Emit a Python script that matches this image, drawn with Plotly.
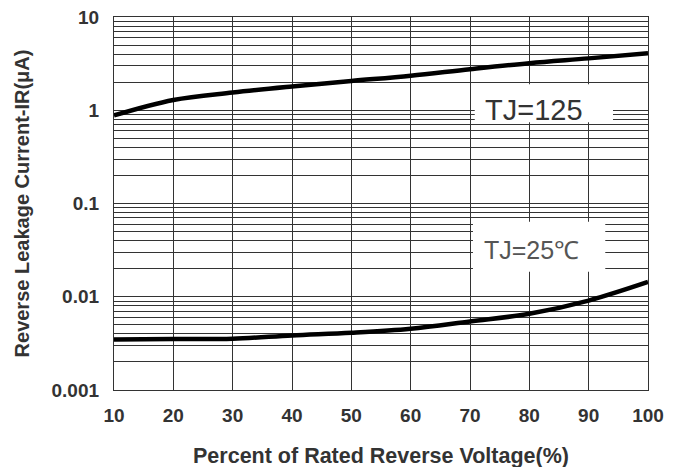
import plotly.graph_objects as go

# Data
voltage_pct = [10, 20, 30, 40, 50, 60, 70, 80, 90, 100]
ir_tj125 = [0.88, 1.29, 1.55, 1.80, 2.06, 2.35, 2.76, 3.20, 3.60, 4.08]
ir_tj25 = [0.00348, 0.00352, 0.00355, 0.00385, 0.00411, 0.00454, 0.00544, 0.00657, 0.0091, 0.0144]

x_ticks = [10, 20, 30, 40, 50, 60, 70, 80, 90, 100]
y_major = [0.001, 0.01, 0.1, 1, 10]
y_major_text = ["0.001", "0.01", "0.1", "1", "10"]

label_125 = "TJ=125"
label_25 = "TJ=25℃"

# build log gridlines (1..9 per decade) as ticks, labels only on decades
y_tickvals, y_ticktext = [], []
for e in range(-3, 1):
    for k in range(1, 10):
        v = round(k * 10 ** e, 6)
        y_tickvals.append(v)
        y_ticktext.append(y_major_text[y_major.index(v)] if v in y_major else "")
y_tickvals.append(10)
y_ticktext.append("10")

fig = go.Figure()
fig.add_trace(go.Scatter(x=voltage_pct, y=ir_tj125, mode="lines",
                         line=dict(color="black", width=4.5, shape="spline", smoothing=1.0),
                         showlegend=False))
fig.add_trace(go.Scatter(x=voltage_pct, y=ir_tj25, mode="lines",
                         line=dict(color="black", width=4.5, shape="spline", smoothing=1.0),
                         showlegend=False))

# white boxes behind labels
fig.add_shape(type="rect", xref="x", yref="y", x0=70.8, x1=94.1, y0=0.743, y1=1.9,
              fillcolor="white", line=dict(width=0), layer="above")
fig.add_shape(type="rect", xref="x", yref="y", x0=70.5, x1=92.8, y0=0.0185, y1=0.0637,
              fillcolor="white", line=dict(width=0), layer="above")

fig.add_annotation(x=80.8, y=0.0, xref="x", yref="y", text=label_125, showarrow=False,
                   font=dict(family="Liberation Sans, Arial", size=29, color="#333333"))
fig.add_annotation(x=80.3, y=-1.496, xref="x", yref="y", text=label_25, showarrow=False,
                   font=dict(family="Liberation Sans, Arial", size=25, color="#555555"))

tick_font = dict(family="Liberation Sans, Arial", size=19, color="#333333", weight="bold")
fig.update_xaxes(range=[10, 100], tickvals=x_ticks, ticktext=[str(t) for t in x_ticks],
                 showgrid=True, gridcolor="#333333", gridwidth=1.3,
                 showline=True, linecolor="#333333", linewidth=1.3, mirror=True,
                 ticks="", zeroline=False, tickfont=tick_font, ticklabelstandoff=8,
                 ticklabeloverflow="allow", automargin=False,
                 title=dict(text="Percent of Rated Reverse Voltage(%)",
                            font=dict(family="Liberation Sans, Arial", size=21.5,
                                      color="#333333", weight="bold"),
                            standoff=22))
fig.update_yaxes(type="log", range=[-3, 1], tickvals=y_tickvals, ticktext=y_ticktext,
                 showgrid=True, gridcolor="#333333", gridwidth=1.3,
                 showline=True, linecolor="#333333", linewidth=1.3, mirror=True,
                 ticks="", zeroline=False, tickfont=tick_font, ticklabelstandoff=10,
                 ticklabeloverflow="allow", automargin=False,
                 title=dict(text="Reverse Leakage Current-IR(μA)",
                            font=dict(family="Liberation Sans, Arial", size=20,
                                      color="#333333", weight="bold"),
                            standoff=16))

fig.update_layout(width=678, height=467, margin=dict(l=106, r=38, t=9, b=85),
                  plot_bgcolor="white", paper_bgcolor="white",
                  font=dict(family="Liberation Sans, Arial"))

fig.write_html("out.html")
